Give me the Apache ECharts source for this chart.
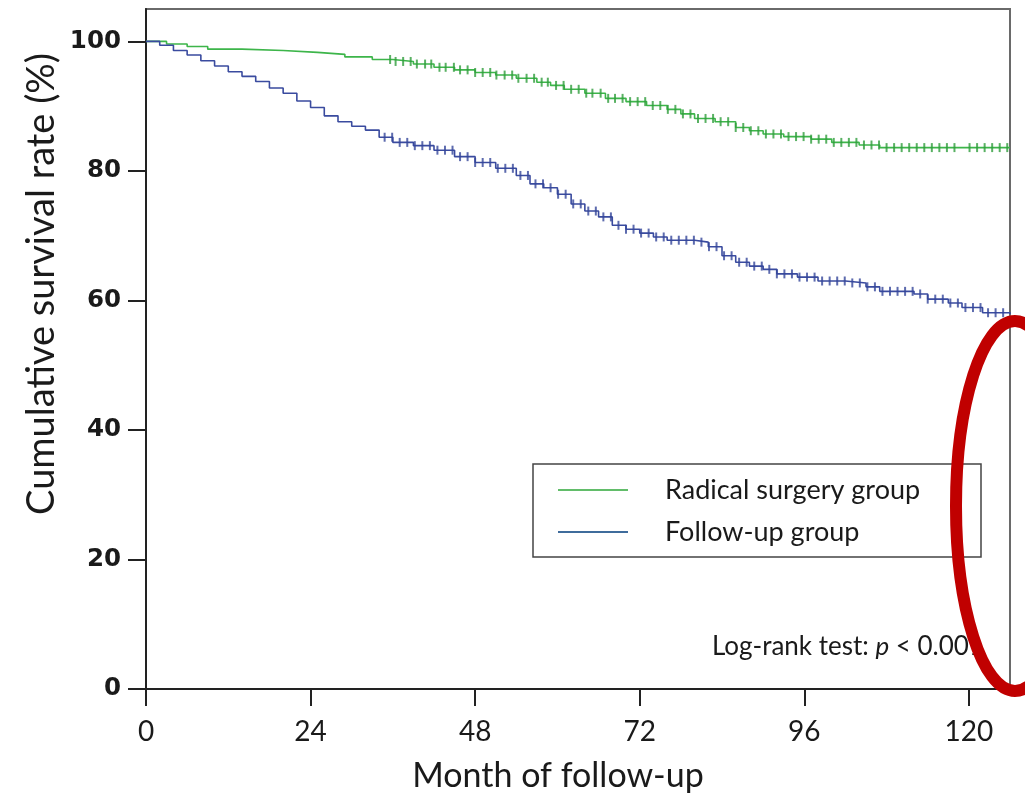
<!DOCTYPE html>
<html>
<head>
<meta charset="utf-8">
<script src="https://cdn.jsdelivr.net/npm/echarts@6/dist/echarts.min.js"></script>
<style>
html,body{margin:0;padding:0;background:#fff;}
#chart{width:1025px;height:796px;}
</style>
</head>
<body>
<div id="chart"></div>
<script>
// ---- Data ----
const seriesNames = ['Radical surgery group', 'Follow-up group'];
const xTickValues = [0, 24, 48, 72, 96, 120];
const yTickValues = [0, 20, 40, 60, 80, 100];

// Kaplan-Meier step points: month, cumulative survival (%)
const surgeryMonths = [0, 3, 6, 9, 14, 20, 25, 29, 33, 36, 39, 42, 45, 48, 51, 54, 57, 59, 61, 64, 67, 70, 73, 76, 78, 80, 83, 86, 88, 90, 93, 97, 100, 104, 107, 126];
const surgerySurv   = [100, 99.6, 99.2, 98.8, 98.6, 98.3, 98.0, 97.6, 97.2, 96.9, 96.5, 96.0, 95.6, 95.2, 94.8, 94.3, 93.7, 93.2, 92.6, 92.0, 91.2, 90.7, 90.1, 89.5, 88.8, 88.1, 87.6, 86.7, 86.2, 85.7, 85.3, 84.9, 84.4, 84.0, 83.6, 83.6];

const followMonths = [0, 2, 4, 6, 8, 10, 12, 14, 16, 18, 20, 22, 24, 26, 28, 30, 32, 34, 36, 39, 42, 45, 48, 51, 54, 56, 58, 60, 62, 64, 66, 68, 70, 72, 74, 76, 80, 82, 84, 86, 88, 90, 92, 95, 98, 102, 105, 107, 112, 114, 117, 119, 122, 126];
const followSurv   = [100, 99.4, 98.6, 97.9, 97.0, 96.2, 95.3, 94.6, 93.8, 92.8, 92.0, 90.8, 89.8, 88.5, 87.6, 86.9, 86.3, 85.2, 84.4, 83.9, 83.2, 82.2, 81.3, 80.4, 79.3, 78.0, 77.4, 76.4, 74.9, 73.8, 72.9, 71.6, 71.0, 70.4, 69.8, 69.3, 69.0, 68.3, 66.9, 65.9, 65.3, 64.8, 64.1, 63.6, 63.0, 62.7, 62.1, 61.4, 61.0, 60.2, 59.6, 58.9, 58.1, 57.9];

// Censoring times (months)
const surgeryCensor = [35.6, 36.4, 37.5, 38.6, 39.5, 40.7, 41.6, 42.8, 43.7, 44.9, 45.8, 46.9, 48.0, 49.1, 50.2, 51.1, 52.3, 53.4, 54.3, 55.5, 56.6, 57.7, 58.6, 59.8, 60.9, 62.0, 63.1, 64.2, 65.1, 66.3, 67.4, 68.4, 69.5, 70.6, 71.7, 72.8, 73.9, 75.0, 76.1, 77.2, 78.3, 79.4, 80.5, 81.6, 82.7, 83.8, 84.9, 86.0, 87.1, 88.2, 89.3, 90.4, 91.5, 92.6, 93.7, 94.8, 95.9, 97.0, 98.1, 99.2, 100.3, 101.4, 102.5, 103.6, 104.7, 105.8, 106.9, 108.0, 109.1, 110.2, 111.3, 112.4, 113.5, 114.6, 115.7, 116.8, 117.9, 120.1, 121.2, 122.3, 123.4, 124.5, 125.6];
const followCensor  = [34.8, 35.9, 37.0, 38.1, 39.2, 40.3, 41.4, 42.5, 43.6, 44.7, 45.8, 46.9, 48.0, 49.1, 50.2, 51.3, 52.4, 53.5, 54.6, 55.7, 56.8, 57.9, 59.0, 60.1, 61.2, 62.3, 63.4, 64.5, 65.6, 66.7, 67.8, 68.9, 70.0, 71.1, 72.2, 73.3, 74.4, 75.5, 76.6, 77.7, 78.8, 79.9, 81.0, 82.1, 83.2, 84.3, 85.4, 86.5, 87.6, 88.7, 89.8, 90.9, 92.0, 93.1, 94.2, 95.3, 96.4, 97.5, 98.6, 99.7, 100.8, 101.9, 103.0, 104.1, 105.2, 106.3, 107.4, 108.5, 109.6, 110.7, 111.8, 112.9, 114.0, 115.1, 116.2, 117.3, 118.4, 119.5, 120.6, 121.7, 122.8, 123.9, 125.0];

// ---- helpers ----
function pairs(xs, ys) { return xs.map((x, i) => [x, ys[i]]); }
function stepValue(xs, ys, t) {
  let v = ys[0];
  for (let i = 0; i < xs.length; i++) { if (xs[i] <= t) v = ys[i]; else break; }
  return v;
}
function censorPoints(cs, xs, ys) { return cs.map(t => [t, stepValue(xs, ys, t)]); }

const green = '#3db54a';
const blue = '#3a4b9f';

const chart = echarts.init(document.getElementById('chart'), null, {renderer: 'canvas'});
const option = {
  animation: false,
  backgroundColor: '#ffffff',
  grid: {left: 146, top: 9, right: 15, bottom: 107, show: true, borderColor: '#6a6a6a', borderWidth: 2, backgroundColor: 'transparent'},
  xAxis: {
    type: 'value', min: 0, max: 126, interval: 24,
    axisLine: {show: true, onZero: false, lineStyle: {color: '#222', width: 2}},
    axisTick: {show: true, length: 17, customValues: xTickValues, lineStyle: {color: '#222', width: 2}},
    axisLabel: {customValues: xTickValues, margin: 29, fontFamily: 'Lato', fontSize: 28, color: '#1a1a1a'},
    splitLine: {show: false}
  },
  yAxis: {
    type: 'value', min: 0, max: 105, interval: 20,
    axisLine: {show: true, onZero: false, lineStyle: {color: '#222', width: 2}},
    axisTick: {show: true, length: 18, customValues: yTickValues, lineStyle: {color: '#222', width: 2}},
    axisLabel: {customValues: yTickValues, margin: 25, fontFamily: 'DejaVu Sans', fontWeight: 'bold', fontSize: 24.5, color: '#1a1a1a'},
    splitLine: {show: false}
  },
  legend: {
    data: [
      {name: seriesNames[0], icon: 'rect', itemStyle: {color: '#62bd6a'}},
      {name: seriesNames[1], icon: 'rect', itemStyle: {color: '#3f6c9c'}}
    ],
    orient: 'vertical',
    left: 558, top: 475,
    itemWidth: 70, itemHeight: 2, itemGap: 12,
    padding: 0,
    textStyle: {fontFamily: 'Lato', fontSize: 27, color: '#1a1a1a', lineHeight: 30, padding: [0, 0, 0, 32]}
  },
  series: [
    {name: seriesNames[0], type: 'line', step: 'end', symbol: 'none', data: pairs(surgeryMonths, surgerySurv), lineStyle: {color: green, width: 1.6}, itemStyle: {color: green}, z: 3},
    {name: seriesNames[1], type: 'line', step: 'end', symbol: 'none', data: pairs(followMonths, followSurv), lineStyle: {color: blue, width: 1.6}, itemStyle: {color: blue}, z: 3},
    {name: 'surgeryCensor', type: 'scatter', symbol: 'rect', symbolSize: [2, 9], data: censorPoints(surgeryCensor, surgeryMonths, surgerySurv), itemStyle: {color: '#2f9e3c'}, z: 4},
    {name: 'followCensor', type: 'scatter', symbol: 'rect', symbolSize: [2, 9], data: censorPoints(followCensor, followMonths, followSurv), itemStyle: {color: '#34469a'}, z: 4}
  ],
  graphic: [
    {type: 'rect', shape: {x: 533, y: 464, width: 448, height: 93}, style: {fill: 'none', stroke: '#444', lineWidth: 1.5}, z: 1},
    {type: 'text', x: 984, y: 647, style: {
      text: '{a|Log-rank test: }{i|p}{a| < 0.001}', align: 'right', verticalAlign: 'middle',
      rich: {a: {fontFamily: 'Lato', fontSize: 26, fill: '#1a1a1a'}, i: {fontFamily: 'Lato', fontStyle: 'italic', fontSize: 26, fill: '#1a1a1a'}}
    }, z: 5},
    {type: 'text', x: 558, y: 776, style: {text: 'Month of follow-up', align: 'center', verticalAlign: 'middle', fontFamily: 'Lato', fontSize: 34, fill: '#1a1a1a'}, z: 5},
    {type: 'text', x: 42, y: 284, rotation: Math.PI / 2, style: {text: 'Cumulative survival rate (%)', align: 'center', verticalAlign: 'middle', fontFamily: 'Lato', fontSize: 38, fill: '#1a1a1a'}, z: 5},
    {type: 'ellipse', shape: {cx: 1015, cy: 506, rx: 59, ry: 185}, style: {fill: 'none', stroke: '#c00000', lineWidth: 12}, z: 10}
  ]
};
chart.setOption(option);
</script>
</body>
</html>
